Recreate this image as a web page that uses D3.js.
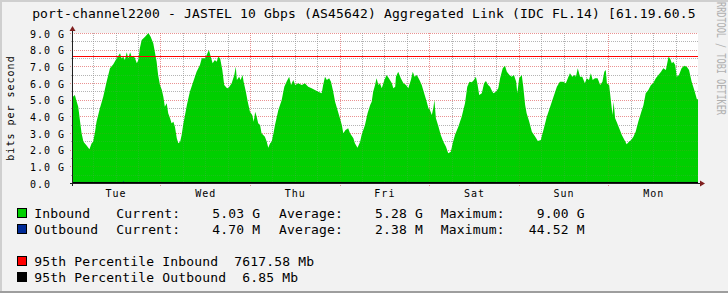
<!DOCTYPE html>
<html><head><meta charset="utf-8">
<script src="https://cdn.jsdelivr.net/npm/d3@7"></script>
<style>
html,body{margin:0;padding:0;background:#F2F2F2;overflow:hidden;}
svg{display:block;}
text{font-family:"DejaVu Sans Mono",monospace;white-space:pre;}
</style></head><body>
<svg id="c" width="728" height="293"></svg>
<script>
// ---------- data ----------
const title = "port-channel2200 - JASTEL 10 Gbps (AS45642) Aggregated Link (IDC FL.14) [61.19.60.5";
const yAxisTitle = "bits per second";
const watermark = "RRDTOOL / TOBI OETIKER";
const timeDomainHours = [0.6, 168];          // hours since Tue 00:00
const dayLabels = ["Tue","Wed","Thu","Fri","Sat","Sun","Mon"];
const dayNoonHours = [12,36,60,84,108,132,156];
const midnightHours = [24,48,72,96,120,144];
const sixHourHours = [6,12,18,30,36,42,54,60,66,78,84,90,102,108,114,126,132,138,150,156,162];
const yDomainG = [0, 9];
const yTickValues = [0,1,2,3,4,5,6,7,8,9];
const yTickLabels = ["0.0","1.0 G","2.0 G","3.0 G","4.0 G","5.0 G","6.0 G","7.0 G","8.0 G","9.0 G"];
const yMinorValues = [0.5,1.5,2.5,3.5,4.5,5.5,6.5,7.5,8.5];

const inboundHours = [0.6,1.1,1.6,2.0,2.5,2.9,3.4,4.3,5.0,5.6,6.0,6.5,6.9,7.8,8.7,9.6,10.5,11.4,12.3,13.2,13.6,14.1,14.5,15.0,15.4,15.9,16.3,16.8,17.2,17.7,18.1,18.5,19.0,19.9,20.8,21.4,22.1,23.0,23.4,23.9,24.4,24.8,25.2,25.7,26.1,26.6,27.0,27.5,27.9,28.4,28.8,29.3,29.7,30.1,31.1,31.9,32.8,33.7,34.6,35.1,36.0,36.4,37.0,37.5,38.0,38.6,39.1,39.5,40.0,40.6,41.1,41.8,
42.2,43.1,43.8,44.2,44.5,45.1,45.5,46.0,46.3,46.9,47.4,48.0,48.6,49.0,49.4,49.8,50.2,50.7,51.1,52.0,52.5,52.9,53.4,53.8,54.3,54.7,55.6,56.5,57.2,57.8,58.5,59.0,59.6,60.1,60.9,61.9,62.7,63.6,64.5,65.4,66.3,67.2,67.6,68.1,68.6,69.2,69.7,70.3,70.8,71.7,72.1,72.6,73.0,73.6,74.3,74.8,75.7,76.1,76.8,77.5,77.9,78.8,79.5,80.2,80.6,81.0,81.5,81.9,82.4,82.8,83.3,84.0,84.6,85.2,86.0,86.4,86.9,
87.1,87.7,88.4,89.1,89.8,90.4,91.1,91.6,92.1,92.7,93.4,94.0,94.4,95.2,95.8,96.2,96.7,97.1,97.4,97.8,98.5,99.1,99.8,100.5,101.1,101.8,102.3,102.9,103.8,104.7,105.6,106.2,106.8,107.4,108.0,108.5,108.9,109.4,110.1,110.7,111.2,111.8,112.3,112.7,113.2,113.9,114.5,115.0,115.7,116.3,116.8,117.5,118.1,118.7,119.3,119.6,120.1,120.8,121.2,121.7,122.1,122.8,123.5,124.4,125.1,125.9,126.6,127.5,128.4,129.3,130.2,131.0,
131.9,132.6,133.3,133.7,134.3,134.9,135.3,135.8,136.4,137.0,137.7,138.2,138.8,139.3,139.8,140.4,141.1,141.8,142.4,142.9,143.3,143.6,144.2,144.7,145.1,145.4,145.8,146.2,146.9,147.6,148.3,148.9,149.5,150.1,150.7,151.3,152.0,152.7,153.4,154.0,154.7,155.4,156.0,156.7,157.4,158.1,158.7,159.4,160.1,160.5,161.0,161.4,161.9,162.3,162.9,163.6,164.3,165.0,165.6,166.3,167.0,167.7,168.0];
const inboundGbps = [5.18,5.28,4.88,4.58,3.68,2.98,2.48,2.24,2.02,2.38,2.48,3.08,3.68,4.48,5.18,6.08,6.88,7.12,7.48,7.78,7.48,7.58,7.38,7.84,7.48,7.84,7.58,7.64,7.48,7.18,7.38,8.08,8.58,8.78,9.00,8.78,8.38,7.28,6.48,5.88,5.58,5.18,4.58,4.78,4.18,3.88,3.58,3.68,3.38,2.68,2.38,2.48,2.88,3.48,4.68,5.48,6.08,6.68,7.08,7.48,7.48,7.68,7.98,7.58,7.18,7.38,7.28,7.58,7.48,6.78,5.88,5.70,
5.68,5.98,6.48,6.98,6.18,6.38,6.18,6.48,6.08,5.48,4.88,4.28,4.08,3.68,4.28,3.98,3.58,3.48,2.98,2.78,2.48,2.12,2.38,2.48,2.98,3.48,4.38,4.98,5.78,6.08,6.38,5.88,6.18,5.88,5.98,5.88,5.98,5.78,5.68,5.58,5.48,5.38,5.88,6.38,6.18,6.28,6.08,5.48,4.88,4.18,3.88,3.48,2.98,3.18,3.28,2.98,2.68,2.38,2.12,2.48,2.88,3.48,4.18,4.68,4.88,5.48,5.88,6.28,5.88,5.98,5.68,6.18,6.48,6.28,5.98,5.68,5.78,
6.38,6.68,6.28,5.98,5.88,5.68,6.18,6.68,6.38,6.48,6.18,5.88,5.58,4.98,4.48,4.38,4.08,4.48,4.98,3.88,3.38,2.88,2.48,2.18,1.78,1.88,2.38,2.88,3.38,3.98,4.78,5.78,6.08,6.04,6.18,6.38,5.98,5.28,5.38,5.98,6.12,5.88,5.78,5.58,5.38,5.48,5.68,6.28,6.88,7.04,6.68,6.48,6.38,6.48,6.08,5.38,6.28,6.48,5.78,4.68,4.18,3.68,3.08,2.78,2.52,2.58,3.18,3.98,4.58,5.18,5.78,6.08,
6.08,5.98,6.38,6.58,6.38,6.48,6.38,6.88,6.38,6.38,5.98,6.28,6.18,6.58,6.18,6.28,6.28,5.88,6.08,6.68,6.78,5.98,5.88,4.88,4.08,4.88,3.88,3.68,3.28,2.88,2.58,2.32,2.48,2.58,2.78,3.08,3.68,4.18,4.68,5.38,5.58,5.88,5.98,6.28,6.48,6.68,6.88,6.78,7.58,7.48,7.18,7.28,7.08,6.38,6.48,6.88,7.04,6.98,6.78,6.08,5.58,5.03,5.03];

const outboundHours = [0.6,14.0,14.1,14.3,40.0,89.6,89.7,89.9,120.0,155.3,155.4,155.6,168.0];
const outboundMbps  = [2.1,2.3,44.52,2.2,2.4,2.5,30.0,2.3,2.2,2.4,25.0,2.6,4.70];

const p95InboundMb = 7617.58;
const p95OutboundMb = 6.85;

const seriesNames = ["Inbound","Outbound"];
const seriesColors = ["#00CF00","#002A97"];
const seriesUnits = ["G","M"];
const currentVals = [5.03, 4.70];
const averageVals = [5.28, 2.38];
const maximumVals = [9.00, 44.52];
const pctNames = ["95th Percentile Inbound  7617.58 Mb","95th Percentile Outbound  6.85 Mb"];
const pctColors = ["#FF0000","#000000"];

// ---------- drawing ----------
const svg = d3.select("#c");
const W = 728, H = 293;
const L = 73, R = 698, T = 33, B = 183;

svg.append("rect").attr("width",W).attr("height",H).attr("fill","#F2F2F2");
svg.append("rect").attr("x",0).attr("y",0).attr("width",W).attr("height",2).attr("fill","#CFCFCF");
svg.append("rect").attr("x",0).attr("y",0).attr("width",2).attr("height",H).attr("fill","#CFCFCF");
svg.append("rect").attr("x",0).attr("y",H-2).attr("width",W).attr("height",2).attr("fill","#9E9E9E");

const x = d3.scaleLinear().domain(timeDomainHours).range([L, R]);
const y = d3.scaleLinear().domain(yDomainG).range([B, T]);

// canvas
svg.append("rect").attr("x",L).attr("y",T).attr("width",R-L).attr("height",B-T).attr("fill","#FFFFFF");

function drawGrid(minorCol, majorCol) {
  const g = svg.append("g").attr("shape-rendering","crispEdges");
  yMinorValues.forEach(v=>{
    const yy = Math.round(y(v))+0.5;
    g.append("line").attr("x1",L-2).attr("x2",R).attr("y1",yy).attr("y2",yy)
      .attr("stroke",minorCol).attr("stroke-dasharray","1,1");
  });
  yTickValues.filter(v=>v>0).forEach(v=>{
    const yy = Math.round(y(v))+0.5;
    g.append("line").attr("x1",L-3).attr("x2",R).attr("y1",yy).attr("y2",yy)
      .attr("stroke",majorCol).attr("stroke-dasharray","1,1");
  });
  sixHourHours.forEach(h=>{
    const xx = Math.round(x(h))+0.5;
    g.append("line").attr("x1",xx).attr("x2",xx).attr("y1",T).attr("y2",B+2)
      .attr("stroke",minorCol).attr("stroke-dasharray","1,1");
  });
  midnightHours.forEach(h=>{
    const xx = Math.round(x(h))+0.5;
    g.append("line").attr("x1",xx).attr("x2",xx).attr("y1",T).attr("y2",B+3)
      .attr("stroke",majorCol).attr("stroke-dasharray","1,1");
  });
}
// grid under the data
drawGrid("rgba(143,143,143,0.6)", "rgba(222,79,79,0.55)");

// inbound area
const inData = inboundHours.map((h,i)=>({h, v: inboundGbps[i]}));
svg.append("path").datum(inData)
  .attr("fill", seriesColors[0])
  .attr("d", d3.area().x(d=>x(d.h)).y0(y(0)).y1(d=>y(d.v)));

// outbound line
const outData = outboundHours.map((h,i)=>({h, v: outboundMbps[i]/1000}));
svg.append("path").datum(outData)
  .attr("fill","none").attr("stroke",seriesColors[1]).attr("stroke-width",1)
  .attr("d", d3.line().x(d=>x(d.h)).y(d=>y(d.v)-0.5));

// faint grid over the data
drawGrid("rgba(143,143,143,0.18)", "rgba(222,79,79,0.15)");

// percentile rules
svg.append("line").attr("x1",L).attr("x2",R)
  .attr("y1",Math.round(y(p95InboundMb/1000))+0.5).attr("y2",Math.round(y(p95InboundMb/1000))+0.5)
  .attr("stroke",pctColors[0]).attr("stroke-width",1).attr("shape-rendering","crispEdges");
svg.append("line").attr("x1",L).attr("x2",R)
  .attr("y1",Math.round(y(p95OutboundMb/1000))-0.5).attr("y2",Math.round(y(p95OutboundMb/1000))-0.5)
  .attr("stroke",pctColors[1]).attr("stroke-width",1).attr("shape-rendering","crispEdges");

// axes lines + arrows
const axisCol = "#1F1F1F", arrowCol = "#7F1F1F";
svg.append("line").attr("x1",L-3).attr("x2",R+3).attr("y1",B+0.5).attr("y2",B+0.5)
  .attr("stroke",axisCol).attr("shape-rendering","crispEdges");
svg.append("line").attr("x1",L-0.5).attr("x2",L-0.5).attr("y1",B+3).attr("y2",T-3)
  .attr("stroke",axisCol).attr("shape-rendering","crispEdges");
svg.append("path").attr("d",`M${R+2},${B-2.5}L${R+7},${B+0.5}L${R+2},${B+3.5}Z`).attr("fill",arrowCol);
svg.append("path").attr("d",`M${L-3.5},${T-2}L${L-0.5},${T-7}L${L+2.5},${T-2}Z`).attr("fill",arrowCol);

// y axis labels (d3 axis)
const yAx = svg.append("g").attr("transform",`translate(${L},0)`)
  .call(d3.axisLeft(y).tickValues(yTickValues).tickSize(0).tickFormat((d,i)=>yTickLabels[i]));
yAx.select(".domain").remove();
yAx.selectAll("text").attr("x",30-L).attr("dy",null).attr("y",4)
  .attr("text-anchor","start").attr("font-family","DejaVu Sans Mono").attr("font-size",10)
  .attr("letter-spacing",1).attr("fill","#000");

// x axis labels (d3 axis)
const xAx = svg.append("g").attr("transform",`translate(0,${B})`)
  .call(d3.axisBottom(x).tickValues(dayNoonHours).tickSize(0).tickFormat((d,i)=>dayLabels[i]));
xAx.select(".domain").remove();
xAx.selectAll("text").attr("y",14).attr("dy",null)
  .attr("font-family","DejaVu Sans Mono").attr("font-size",10).attr("letter-spacing",1).attr("fill","#000");

// y axis title
svg.append("text").attr("transform",`translate(14,${(T+B)/2}) rotate(-90)`)
  .attr("text-anchor","middle").attr("font-size",10).attr("letter-spacing",1).attr("fill","#000")
  .text(yAxisTitle);

// title
svg.append("text").attr("x",W/2).attr("y",17.5).attr("text-anchor","middle")
  .attr("font-size",13).attr("letter-spacing",0.17).attr("fill","#000").text(title);

// watermark
svg.append("text").attr("transform","translate(717,2) rotate(90)")
  .attr("font-size",12).attr("textLength",113).attr("lengthAdjust","spacingAndGlyphs")
  .attr("fill","#B0B0B0").text(watermark);

// legend
const legY = [218, 234];
const fmt = v => v.toFixed(2).padStart(8);
seriesNames.forEach((n,i)=>{
  const yy = legY[i];
  svg.append("rect").attr("x",17.5).attr("y",yy-9.5).attr("width",9).attr("height",9)
    .attr("fill",seriesColors[i]).attr("stroke","#000").attr("stroke-width",1);
  const t = (xx,s)=>svg.append("text").attr("x",xx).attr("y",yy).attr("font-size",13)
    .attr("letter-spacing",0.17).attr("fill","#000").text(s);
  t(34.3, n);
  t(116.3, "Current:" + fmt(currentVals[i]) + " " + seriesUnits[i]);
  t(279, "Average:" + fmt(averageVals[i]) + " " + seriesUnits[i]);
  t(440.7, "Maximum:" + fmt(maximumVals[i]) + " " + seriesUnits[i]);
});
const pctY = [266, 282];
pctNames.forEach((n,i)=>{
  const yy = pctY[i];
  svg.append("rect").attr("x",17.5).attr("y",yy-9.5).attr("width",9).attr("height",9)
    .attr("fill",pctColors[i]).attr("stroke","#000").attr("stroke-width",1);
  svg.append("text").attr("x",34.3).attr("y",yy).attr("font-size",13)
    .attr("letter-spacing",0.17).attr("fill","#000").text(n);
});
</script>
</body></html>
